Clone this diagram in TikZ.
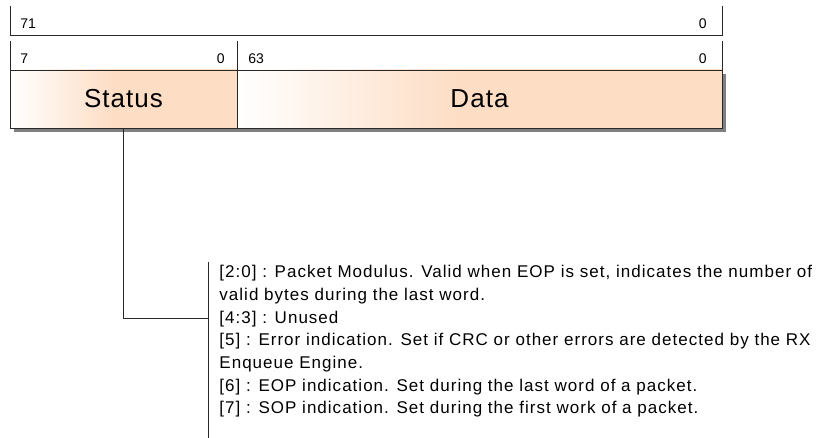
\documentclass[tikz,border=0pt]{standalone}
\usepackage{fontspec}
\setmainfont{Liberation Sans}
\usetikzlibrary{positioning, calc, shadows}
\definecolor{peach}{RGB}{253, 221, 196}
\definecolor{rule}{RGB}{40, 40, 40}
\pgfdeclarehorizontalshading{peachfade}{100bp}{color(0bp)=(white); color(25bp)=(white); color(48bp)=(peach); color(100bp)=(peach)}

\begin{document}
\begin{tikzpicture}[
    x=1pt, y=-1pt,
    line width=0.9pt,
    field/.style={rectangle, draw=rule, shading=peachfade, shading angle=0, minimum height=58pt,
        inner sep=0pt, outer sep=0pt,
        font=\fontsize{26}{26}\selectfont\addfontfeatures{LetterSpace=4},
        drop shadow={shadow xshift=4pt, shadow yshift=-4pt, fill=black!50, opacity=1}},
    bitnum/.style={inner sep=0pt, font=\fontsize{14}{14}\selectfont},
    note/.style={inner sep=0pt, align=left, font=\fontsize{17}{22.67}\selectfont\addfontfeatures{LetterSpace=6}}
]
\useasboundingbox (0,0) rectangle (817,438);

% Register fields
\node[field, minimum width=227pt] (status) at (123.5,99) {Status};
\node[field, minimum width=485pt, right=0pt of status] (data) {Data};

% Bit ranges
\draw[rule] (10,6) |- (722,35) -- (722,6);
\draw[rule] (10,41) -- (status.north west);
\draw[rule] (237,41) -- (status.north east);
\draw[rule] (722,41) -- (data.north east);
\node[bitnum, anchor=base west] (hi71) at (20,29) {71};
\node[bitnum, anchor=base east] (lo71) at (707,29) {0};
\node[bitnum, anchor=base west] (hi7) at (20,64) {7};
\node[bitnum, anchor=base east] (lo7) at (225,64) {0};
\node[bitnum, anchor=base west] (hi63) at (248,64) {63};
\node[bitnum, anchor=base east] (lo63) at (707,64) {0};

% Status bit description
\node[note, anchor=north west] (desc) at (219,265) {[2:0] : Packet Modulus. Valid when EOP is set, indicates the number of\\
valid bytes during the last word.\\
{[}4:3] : Unused\\
{[}5] : Error indication. Set if CRC or other errors are detected by the RX\\
Enqueue Engine.\\
{[}6] : EOP indication. Set during the last word of a packet.\\
{[}7] : SOP indication. Set during the first work of a packet.};
\draw[rule] (208,262) -- (208,438);
\coordinate (brace) at (208,318);
\draw[rule] (status.south) |- (brace);

\end{tikzpicture}
\end{document}
